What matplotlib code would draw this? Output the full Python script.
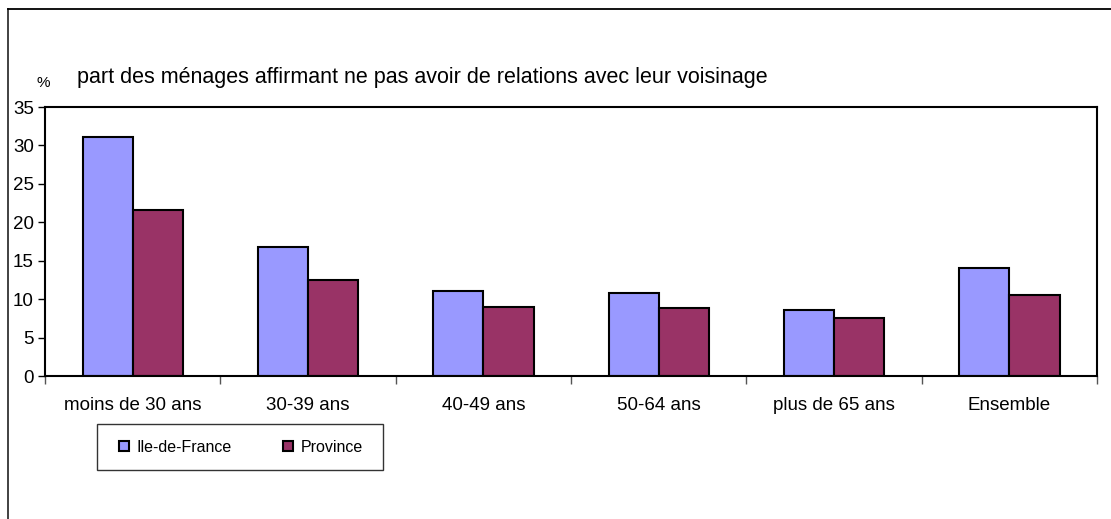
import numpy as np
import matplotlib
matplotlib.use("Agg")
import matplotlib.pyplot as plt
from matplotlib.lines import Line2D
from matplotlib.patches import Rectangle

plt.rcParams['font.family'] = ['Liberation Sans', 'DejaVu Sans']

categories = ["moins de 30 ans", "30-39 ans", "40-49 ans", "50-64 ans", "plus de 65 ans", "Ensemble"]
idf = [31.1, 16.8, 11.1, 10.8, 8.6, 14.1]
province = [21.6, 12.5, 9.0, 8.9, 7.5, 10.6]
series_names = ["Ile-de-France", "Province"]
y_ticks = [0, 5, 10, 15, 20, 25, 30, 35]

fig = plt.figure(figsize=(11.11, 5.19), dpi=100)
ax = fig.add_axes([0.0405, 0.2755, 0.947, 0.5183])

x = np.arange(len(categories))
w = 0.286
ax.bar(x - w / 2, idf, w, color='#9999FF', edgecolor='black', linewidth=1.5, label=series_names[0])
ax.bar(x + w / 2, province, w, color='#993366', edgecolor='black', linewidth=1.5, label=series_names[1])

ax.set_xlim(-0.5, len(categories) - 0.5)
ax.set_ylim(0, 35)
ax.set_yticks(y_ticks)
ax.tick_params(axis='y', labelsize=13.5, length=5, width=1, pad=3)

# category labels centred, ticks between groups
ax.set_xticks(x)
ax.set_xticklabels(categories, fontsize=13.5)
ax.tick_params(axis='x', length=0, pad=15)
ax.set_xticks(np.arange(-0.5, len(categories)), minor=True)
ax.tick_params(axis='x', which='minor', length=6, width=1, color='#555555')

for s in ax.spines.values():
    s.set_linewidth(1.5)
    s.set_color('black')

fig.text(0.069, 0.851, "part des ménages affirmant ne pas avoir de relations avec leur voisinage",
         fontsize=15.5, ha='left', va='center')
fig.text(0.033, 0.840, "%", fontsize=11, ha='left', va='center')

# legend without frame, box drawn separately
leg = fig.legend(loc='center left', bbox_to_anchor=(119 / 1111, 1 - 447 / 519), ncol=2, fontsize=11.5,
                 frameon=False, handlelength=0.6, handleheight=0.6, handletextpad=0.5,
                 columnspacing=3.2, borderpad=0, borderaxespad=0)
fig.add_artist(Rectangle((97 / 1111, 1 - 470 / 519), 286 / 1111, 46 / 519, transform=fig.transFigure,
                         fill=False, edgecolor='#333333', lw=1.0))

# outer chart border (left and top)
fig.add_artist(Line2D([0.0075, 0.0075], [0, 0.983], transform=fig.transFigure, color='#333333', lw=1.3))
fig.add_artist(Line2D([0.0075, 1.0], [0.983, 0.983], transform=fig.transFigure, color='black', lw=1.3))

fig.savefig("out.png", dpi=100)
